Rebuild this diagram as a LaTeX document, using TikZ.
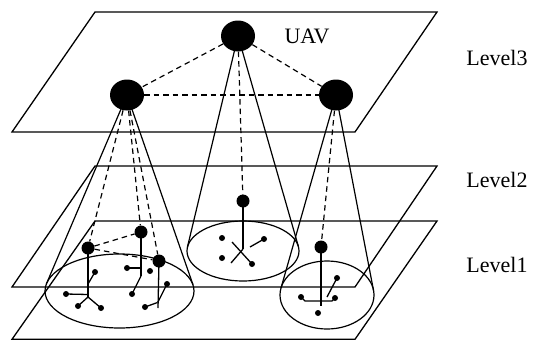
\documentclass[tikz,border=0pt]{standalone}
\usepackage{fontspec}
\setmainfont{Liberation Serif}
\usetikzlibrary{shapes.geometric}

\tikzset{
  plane/.style={draw, line width=1.3pt, line join=miter},
  cone/.style={draw, line width=1.2pt},
  cluster/.style={draw, line width=1.2pt},
  link/.style={draw, line width=1.2pt, dash pattern=on 5.5pt off 4pt},
  tie/.style={draw, line width=1.3pt},
  uav/.style={ellipse, fill=black, inner sep=0pt, minimum width=34pt, minimum height=31pt},
  head/.style={circle, fill=black, inner sep=0pt, minimum size=13pt},
  member/.style={circle, fill=black, inner sep=0pt, minimum size=6pt},
  lbl/.style={font=\fontsize{22}{24}\selectfont, inner sep=0pt}
}

\begin{document}
\begin{tikzpicture}[x=1pt, y=-1pt]
\useasboundingbox (0,0) rectangle (537,340);

% the three levels
\draw[plane] (95,12) -- (437,12) -- (355,132) -- (12,132) -- cycle;
\draw[plane] (95,166) -- (437,166) -- (355,287) -- (12,287) -- cycle;
\draw[plane] (95,221) -- (437,221) -- (355,339.3) -- (12,339.3) -- cycle;

% UAVs
\node[uav] (u0) at (238,36) {};
\node[uav] (u1) at (127,95) {};
\node[uav] (u2) at (336,95) {};

% coverage areas on the ground
\draw[cluster] (119.5,291) ellipse [x radius=74.5, y radius=37];
\draw[cluster] (243,251) ellipse [x radius=56, y radius=30];
\draw[cluster] (327,295) ellipse [x radius=47, y radius=34];

% tangent points of the cones
\coordinate (l1) at (46.6,283.4);
\coordinate (l2) at (193,284.8);
\coordinate (m1t) at (187.4,247.2);
\coordinate (m2t) at (298.4,246.5);
\coordinate (r1t) at (281,288);
\coordinate (r2t) at (373.5,290.3);

\draw[cone] (u1.center) -- (l1);
\draw[cone] (u1.center) -- (l2);
\draw[cone] (u0.center) -- (m1t);
\draw[cone] (u0.center) -- (m2t);
\draw[cone] (u2.center) -- (r1t);
\draw[cone] (u2.center) -- (r2t);

% cluster heads
\node[head] (ha) at (88,248) {};
\node[head] (hb) at (141,232) {};
\node[head] (hc) at (159,261) {};
\node[head] (hm) at (243,201) {};
\node[head] (hr) at (321,247) {};

% UAV links
\draw[link] (u0) -- (u1);
\draw[link] (u0) -- (u2);
\draw[link] (u1) -- (u2);
\draw[link] (u0) -- (hm);
\draw[link] (u1) -- (ha);
\draw[link] (u1) -- (hb);
\draw[link] (u1) -- (hc);
\draw[link] (u2) -- (hr);
\draw[link] (ha) -- (hb);
\draw[link] (ha) -- (hc);

% left cluster A
\coordinate (ja) at (88,297);
\node[member] (a1) at (95,272) {};
\node[member] (a2) at (66,294) {};
\node[member] (a3) at (78,306) {};
\node[member] (a4) at (101,308) {};
\draw[tie] (ha.center) -- (ja);
\draw[tie] (88,284) -- (a1.center);
\draw[tie] (a2.center) -- (88,294.5);
\draw[tie] (ja) -- (a3.center);
\draw[tie] (ja) -- (a4.center);

% left cluster B
\coordinate (jb) at (141,276);
\node[member] (b1) at (127,268) {};
\node[member] (b2) at (150,271) {};
\node[member] (b3) at (132,294) {};
\draw[tie] (hb.center) -- (jb);
\draw[tie] (b1.center) -- (141,268);
\draw[tie] (jb) -- (b3.center);

% left cluster C
\coordinate (jc) at (158,308);
\node[member] (c1) at (167,284) {};
\node[member] (c2) at (145,307) {};
\draw[tie] (hc.center) -- (jc);
\draw[tie] (c1.center) -- (158,302);
\draw[tie] (c2.center) -- (157.5,302.5);

% middle cluster
\coordinate (jm) at (243,249);
\node[member] (mm1) at (222,238) {};
\node[member] (mm2) at (264,239) {};
\node[member] (mm3) at (222,258) {};
\node[member] (mm4) at (252,264) {};
\draw[tie] (hm.center) -- (jm);
\draw[tie] (232,242) -- (mm4.center);
\draw[tie] (231,263) -- (jm);
\draw[tie] (250,247) -- (mm2.center);

% right cluster
\coordinate (jr) at (321,306);
\node[member] (rr1) at (301,297) {};
\node[member] (rr2) at (335,298) {};
\node[member] (rr3) at (337,278) {};
\node[member] (rr4) at (318,313) {};
\draw[tie] (hr.center) -- (jr);
\draw[tie] (rr1.center) -- (305,301) -- (332,301) -- (rr2.center);
\draw[tie] (rr3.center) -- (327,297);

% labels
\node[lbl] (tuav) at (307,36) {UAV};
\node[lbl] (t3) at (497,58) {Level3};
\node[lbl] (t2) at (497,180) {Level2};
\node[lbl] (t1) at (497,265) {Level1};
\end{tikzpicture}
\end{document}
